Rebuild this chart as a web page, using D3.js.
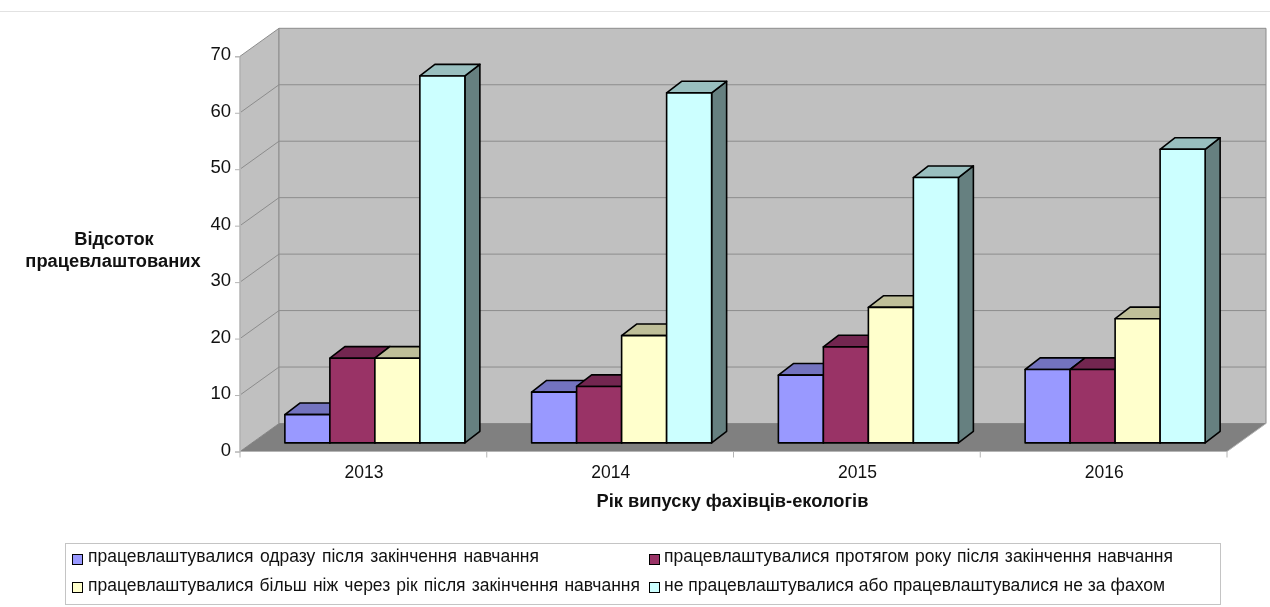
<!DOCTYPE html>
<html>
<head>
<meta charset="utf-8">
<script src="https://cdn.jsdelivr.net/npm/d3@7"></script>
<style>
  html, body { margin: 0; padding: 0; background: #fff; overflow: hidden; }
  text { font-family: "Liberation Sans", Arial, sans-serif; fill: #111; }
  svg { filter: blur(0.35px); }
</style>
</head>
<body>
<div id="chart"></div>
<script>
var width = 1270;
var height = 607;

// data
var years = ['2013', '2014', '2015', '2016'];
var seriesNames = [
  'працевлаштувалися одразу після закінчення навчання',
  'працевлаштувалися протягом року після закінчення навчання',
  'працевлаштувалися більш ніж через рік після закінчення навчання',
  'не працевлаштувалися або працевлаштувалися не за фахом'
];
var seriesColors = ['#9999ff', '#993366', '#ffffcc', '#ccffff'];
var sideColors = ['#7373bf', '#732650', '#bfbf99', '#99bfbf'];
var darkColors = ['#5c5c99', '#5c1f3d', '#99997a', '#668080'];
var valuesOdrazu = [5, 9, 12, 13];
var valuesProtyahom = [15, 10, 17, 13];
var valuesBilsh = [15, 19, 24, 22];
var valuesNe = [65, 62, 47, 52];
var seriesValues = [valuesOdrazu, valuesProtyahom, valuesBilsh, valuesNe];
var yTicks = [0, 10, 20, 30, 40, 50, 60, 70];

var svg = d3.select('#chart')
  .append('svg')
  .attr('width', width)
  .attr('height', height)
  .style('display', 'block');

// faint line along the top of the page
svg.append('line')
  .attr('x1', 0).attr('x2', width)
  .attr('y1', 11.5).attr('y2', 11.5)
  .attr('stroke', '#e2e2e2');

var x = d3.scaleBand().domain(years).range([240, 1227]);
var y = d3.scaleLinear().domain([0, 70]).range([451.5, 56.3]);

// depth of the box
var depthX = 39;
var depthY = -28;
var bottom = y(0);
var top70 = y(70);
var left = x.range()[0];
var right = x.range()[1];

function pts(a) {
  return a.map(function(p) { return p.join(','); }).join(' ');
}

var walls = svg.append('g');

// side wall
walls.append('polygon')
  .attr('points', pts([[left, bottom], [left, top70], [left + depthX, top70 + depthY], [left + depthX, bottom + depthY]]))
  .attr('fill', '#c0c0c0').attr('stroke', '#8c8c8c');

// back wall
walls.append('polygon')
  .attr('points', pts([[left + depthX, bottom + depthY], [left + depthX, top70 + depthY], [right + depthX, top70 + depthY], [right + depthX, bottom + depthY]]))
  .attr('fill', '#c0c0c0').attr('stroke', '#8c8c8c');

// floor
walls.append('polygon')
  .attr('points', pts([[left, bottom], [left + depthX, bottom + depthY], [right + depthX, bottom + depthY], [right, bottom]]))
  .attr('fill', '#808080');

// gridlines
yTicks.slice(1, -1).forEach(function(t) {
  walls.append('polyline')
    .attr('points', pts([[left, y(t)], [left + depthX, y(t) + depthY], [right + depthX, y(t) + depthY]]))
    .attr('fill', 'none')
    .attr('stroke', '#8c8c8c');
});

// front edges of the box
walls.append('line')
  .attr('x1', left).attr('x2', right)
  .attr('y1', bottom).attr('y2', bottom)
  .attr('stroke', '#b4b4b4');
walls.append('line')
  .attr('x1', right).attr('x2', right + depthX)
  .attr('y1', bottom).attr('y2', bottom + depthY)
  .attr('stroke', '#b4b4b4');

// axes
var axisY = d3.axisLeft(y).tickValues(yTicks).tickSize(5).tickPadding(4);
var gy = svg.append('g').attr('transform', 'translate(' + left + ',0)').call(axisY);
gy.select('.domain').attr('stroke', '#b4b4b4');
gy.selectAll('.tick line').attr('stroke', '#b4b4b4');
gy.selectAll('text')
  .attr('dy', '0.19em')
  .style('font-size', '18.5px')
  .style('font-family', '"Liberation Sans"');

var axisX = d3.axisBottom(x).tickSize(0).tickPadding(14);
var gx = svg.append('g').attr('transform', 'translate(0.7,' + bottom + ')').call(axisX);
gx.select('.domain').remove();
gx.selectAll('text').style('font-size', '17.5px').style('font-family', '"Liberation Sans"');

// tick marks sit between the categories
svg.append('g').selectAll('line')
  .data(years.concat(['end']))
  .enter()
  .append('line')
  .attr('x1', function(d, i) { return left + i * x.bandwidth(); })
  .attr('x2', function(d, i) { return left + i * x.bandwidth(); })
  .attr('y1', bottom).attr('y2', bottom + 6)
  .attr('stroke', '#b4b4b4');

// bars
var barW = 45;
var barDx = 15;
var barDy = -11.6;
var baseDx = 12.5;
var baseDy = -8.6;
var barsG = svg.append('g').attr('stroke', '#000').attr('stroke-width', 1.6).attr('stroke-linejoin', 'round');

years.forEach(function(year, yi) {
  var groupLeft = x(year) + x.bandwidth() / 2 + baseDx - 2 * barW - 1;
  seriesValues.forEach(function(vals, si) {
    var x0 = groupLeft + si * barW;
    var x1 = x0 + barW;
    var yBase = y(0) + baseDy;
    var yTop = y(vals[yi]) + baseDy;
    barsG.append('polygon')
      .attr('points', pts([[x1, yBase], [x1, yTop], [x1 + barDx, yTop + barDy], [x1 + barDx, yBase + barDy]]))
      .attr('fill', darkColors[si]);
    barsG.append('polygon')
      .attr('points', pts([[x0, yTop], [x1, yTop], [x1 + barDx, yTop + barDy], [x0 + barDx, yTop + barDy]]))
      .attr('fill', sideColors[si]);
    barsG.append('rect')
      .attr('x', x0).attr('y', yTop)
      .attr('width', barW).attr('height', yBase - yTop)
      .attr('fill', seriesColors[si]);
  });
});

// axis titles
var yTitle = svg.append('text')
  .attr('text-anchor', 'middle')
  .style('font-size', '18.3px')
  .style('font-weight', 'bold');
yTitle.append('tspan').attr('x', 114).attr('y', 245).text('Відсоток');
yTitle.append('tspan').attr('x', 113).attr('y', 267).text('працевлаштованих');

svg.append('text')
  .attr('x', 732.5).attr('y', 507)
  .attr('text-anchor', 'middle')
  .style('font-size', '18.3px')
  .style('font-weight', 'bold')
  .text('Рік випуску фахівців-екологів');

// legend
svg.append('rect')
  .attr('x', 65.5).attr('y', 543.5)
  .attr('width', 1155).attr('height', 61)
  .attr('fill', '#fff')
  .attr('stroke', '#c4c4c4');

var legendX = [72, 649];
var legendY = [554, 582];
var legendWidths = [451, 509, 552, 501];
seriesNames.forEach(function(name, i) {
  var col = i % 2;
  var row = Math.floor(i / 2);
  svg.append('rect')
    .attr('x', legendX[col] + 0.5).attr('y', legendY[row] + 0.5)
    .attr('width', 10).attr('height', 10)
    .attr('fill', seriesColors[i])
    .attr('stroke', '#000');
  var label = svg.append('text')
    .attr('x', legendX[col] + 16 - col).attr('y', legendY[row] + 8 + row)
    .style('font-size', '17.5px')
    .text(name);
  // the original stretches only the gaps between words
  var gaps = name.split(' ').length - 1;
  var extra = (legendWidths[i] - label.node().getComputedTextLength()) / gaps;
  label.style('word-spacing', extra + 'px');
});
</script>
</body>
</html>
